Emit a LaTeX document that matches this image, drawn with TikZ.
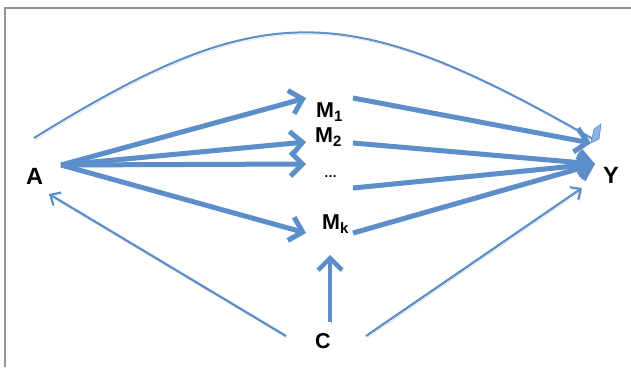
\documentclass[tikz,border=0pt]{standalone}
\usepackage{fontspec}
\setmainfont{Liberation Sans}
\usetikzlibrary{arrows.meta}
\definecolor{mblue}{RGB}{92,143,202}
\definecolor{mtip}{RGB}{140,180,228}
\newcommand\mysub[1]{\raisebox{-4.5pt}{\fontsize{15pt}{15pt}\selectfont #1}}
\begin{document}
\begin{tikzpicture}[x=1pt,y=-1pt,
  lbl/.style={font=\bfseries\fontsize{21.5pt}{21.5pt}\selectfont, inner sep=0pt, anchor=base west},
  biglbl/.style={lbl, font=\bfseries\fontsize{23.5pt}{23.5pt}\selectfont},
  shadowed/.style={preaction={draw=black,opacity=0.18,transform canvas={shift={(1pt,-2pt)}}}},
  thickarr/.style={draw=mblue, line width=5pt, -{Straight Barb[length=12pt,width=24pt]}, shadowed},
  thinarr/.style={draw=mblue, line width=2.2pt, -{Straight Barb[length=8pt,width=15pt]}, shadowed},
]
\useasboundingbox (0,0) rectangle (631,367);
\fill[white] (0,0) rectangle (631,367);
\draw[gray!85, line width=1.5pt] (5,367) -- (5,8) -- (631,8);

% labels
\node[biglbl] (A) at (26,184) {A};
\node[biglbl] (Y) at (603,183) {Y};
\node[lbl] (M1) at (316,117) {M\mysub{1}};
\node[lbl] (M2) at (315,142) {M\mysub{2}};
\node[lbl, font=\bfseries\fontsize{13pt}{13pt}\selectfont] (Md) at (324,177) {\ldots};
\node[lbl] (Mk) at (322,229) {M\mysub{k}};
\node[lbl] (C) at (315,348) {C};

% connector ends
\coordinate (Aout) at (61,165);
\coordinate (M1in) at (306,98);
\coordinate (M2in) at (306,142);
\coordinate (Mdin) at (306,164);
\coordinate (Mkin) at (306,233);
\coordinate (M1out) at (353,98);
\coordinate (M2out) at (353,143);
\coordinate (Mdout) at (353,188);
\coordinate (Mkout) at (353,233);
\coordinate (Yin1) at (591,143);
\coordinate (Yin) at (595,164);
\coordinate (Acurve) at (34,138);
\coordinate (Ycurve) at (593,139);
\coordinate (Cup) at (330,322);
\coordinate (Mkbot) at (330,255);
\coordinate (Cleft) at (286,336);
\coordinate (Abot) at (49,194);
\coordinate (Cright) at (366,336);
\coordinate (Ybot) at (582,188);

% curved direct path
\draw[mblue, line width=2pt, shadowed] (Acurve) .. controls (262,-3) and (345,-3) .. (Ycurve);
\fill[mtip, draw=mblue, line width=0.6pt] (591,143) -- (594,129) -- (601,124) -- (599,139) -- cycle;

% A to mediators
\draw[thickarr] (Aout) -- (M1in);
\draw[thickarr] (Aout) -- (M2in);
\draw[thickarr] (Aout) -- (Mdin);
\draw[thickarr] (Aout) -- (Mkin);

% mediators to Y
\draw[thickarr] (M1out) -- (Yin1);
\draw[thickarr] (M2out) -- (Yin);
\draw[thickarr] (Mdout) -- (Yin);
\draw[thickarr] (Mkout) -- (Yin);

% confounder
\draw[thickarr, line width=4.5pt] (Cup) -- (Mkbot);
\draw[thinarr] (Cleft) -- (Abot);
\draw[thinarr] (Cright) -- (Ybot);
\end{tikzpicture}
\end{document}
